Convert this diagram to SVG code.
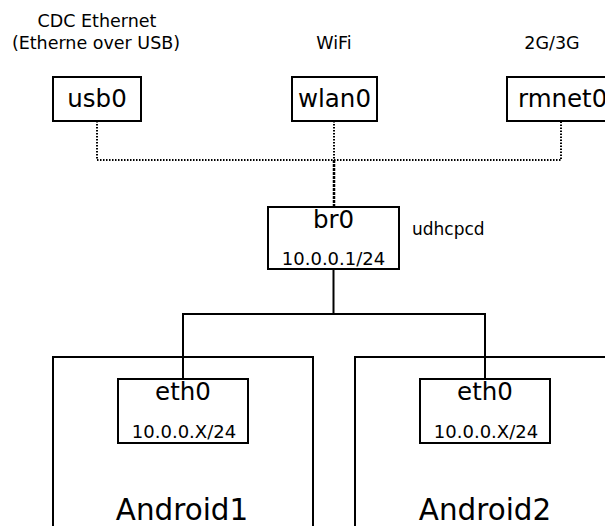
<svg xmlns="http://www.w3.org/2000/svg" width="605" height="526" viewBox="0 0 605 526">
<style>
.box{fill:#fff;stroke:#000;stroke-width:2}
.frame{fill:none;stroke:#000;stroke-width:2}
.wire{fill:none;stroke:#000;stroke-width:2}
.dot{fill:none;stroke:#000;stroke-width:2;stroke-dasharray:1.5,1.5}
.t{font-family:"DejaVu Sans",sans-serif;fill:#000;text-anchor:middle}
.big{font-size:24.5px}
.small{font-size:18px}
.lbl{font-size:17.5px}
.huge{font-size:29.4px}
</style>
<rect width="605" height="526" fill="#fff"/>
<g id="labels">
<text class="t lbl" x="97" y="27">CDC Ethernet</text>
<text class="t lbl" x="96" y="48.5">(Etherne over USB)</text>
<text class="t lbl" x="334" y="48.5">WiFi</text>
<text class="t lbl" x="552" y="48.5">2G/3G</text>
<text class="t lbl" x="412" y="235" style="text-anchor:start;font-size:17px">udhcpcd</text>
</g>
<g id="connectors">
<path class="dot" d="M97,121 V160 H561 V121"/>
<path class="dot" d="M334,121 V160"/>
<path class="dot" d="M334,160 V207" style="stroke-width:2.5;stroke-dasharray:3,1"/>
<path class="wire" d="M333.5,269 V314"/>
<path class="wire" d="M183,314 H485"/>
<path class="wire" d="M183,313 V379"/>
<path class="wire" d="M485,313 V379"/>
</g>
<g id="android1">
<rect class="frame" x="53" y="357" width="260" height="190"/>
<text class="t huge" x="182" y="520">Android1</text>
</g>
<g id="android2">
<rect class="frame" x="355" y="357" width="270" height="190"/>
<text class="t huge" x="485" y="520">Android2</text>
</g>
<g id="usb0">
<rect class="box" x="53" y="77" width="88" height="44"/>
<text class="t big" x="97" y="107">usb0</text>
</g>
<g id="wlan0">
<rect class="box" x="292" y="77" width="85" height="44"/>
<text class="t big" x="334.5" y="107">wlan0</text>
</g>
<g id="rmnet0">
<rect class="box" x="507" y="77" width="110" height="44"/>
<text class="t big" x="518" y="107" style="text-anchor:start">rmnet0</text>
</g>
<g id="br0">
<rect class="box" x="268" y="207" width="131" height="62"/>
<text class="t big" x="333.5" y="228">br0</text>
<text class="t small" x="333.5" y="265">10.0.0.1/24</text>
</g>
<g id="eth0-1">
<rect class="box" x="118" y="379" width="130" height="64"/>
<text class="t big" x="183" y="400">eth0</text>
<text class="t small" x="184" y="438">10.0.0.X/24</text>
</g>
<g id="eth0-2">
<rect class="box" x="420" y="379" width="130" height="64"/>
<text class="t big" x="485" y="400">eth0</text>
<text class="t small" x="486" y="438">10.0.0.X/24</text>
</g>
</svg>
